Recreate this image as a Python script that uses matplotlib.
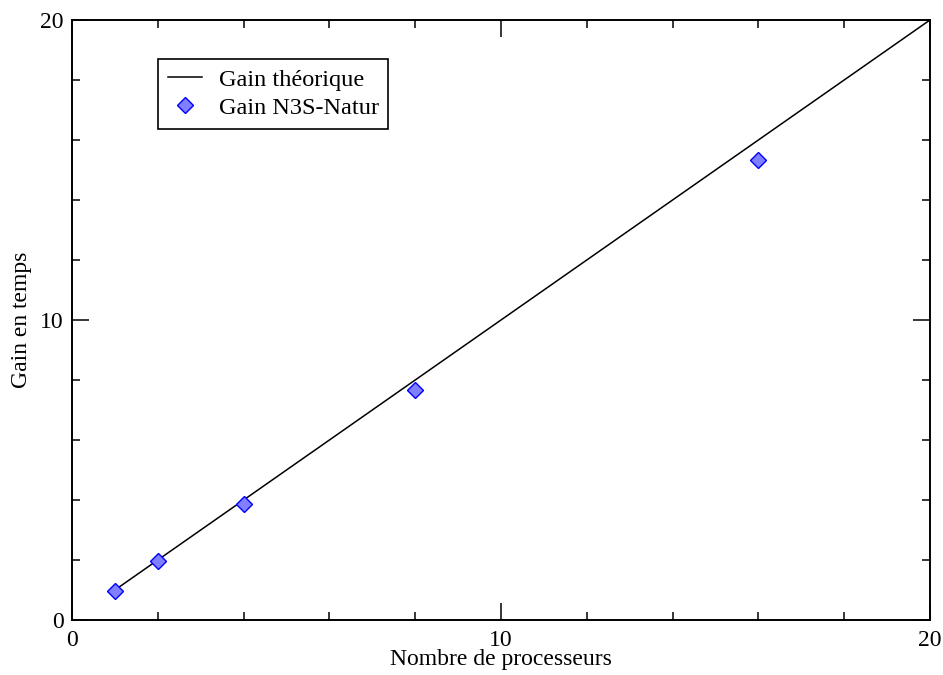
import matplotlib
matplotlib.use("Agg")
import matplotlib.pyplot as plt
from matplotlib.ticker import MultipleLocator

# data
theo_x = [1, 2, 4, 8, 16, 20]
theo_y = [1, 2, 4, 8, 16, 20]
nprocs = [1, 2, 4, 8, 16]
gain = [0.97, 1.97, 3.87, 7.67, 15.33]

plt.rcParams['font.family'] = ['Liberation Serif', 'DejaVu Serif']

fig = plt.figure(figsize=(9.43, 6.75), dpi=100)
ax = fig.add_axes([0.0764, 0.0815, 0.9098, 0.8889])

ax.plot(theo_x, theo_y, color='black', lw=1.1, label='Gain théorique')
ax.plot(nprocs, gain, ls='none', marker='D', markersize=8,
        markerfacecolor='#7f7fff', markeredgecolor='#0000ff', markeredgewidth=1,
        label='Gain N3S-Natur')

ax.set_xlim(0, 20)
ax.set_ylim(0, 20)
ax.xaxis.set_major_locator(MultipleLocator(10))
ax.yaxis.set_major_locator(MultipleLocator(10))
ax.xaxis.set_minor_locator(MultipleLocator(2))
ax.yaxis.set_minor_locator(MultipleLocator(2))
ax.tick_params(which='both', direction='in', top=True, right=True,
               labelsize=17, width=1.1)
ax.tick_params(axis='x', which='both', pad=7)
ax.tick_params(axis='y', which='both', pad=6)
ax.tick_params(which='major', length=12)
ax.tick_params(which='minor', length=6)
for s in ax.spines.values():
    s.set_linewidth(1.4)

ax.set_xlabel('Nombre de processeurs', fontsize=17, labelpad=-1)
ax.set_ylabel('Gain en temps', fontsize=17, labelpad=6)

leg = ax.legend(loc='upper left', bbox_to_anchor=(0.1, 0.935), borderaxespad=0,
                fontsize=17.5, frameon=True, fancybox=False, edgecolor='black',
                framealpha=1, handlelength=1.4, handletextpad=0.7,
                borderpad=0.4, labelspacing=0.25)
leg.get_frame().set_linewidth(1.2)

fig.savefig('out.png', dpi=100)
